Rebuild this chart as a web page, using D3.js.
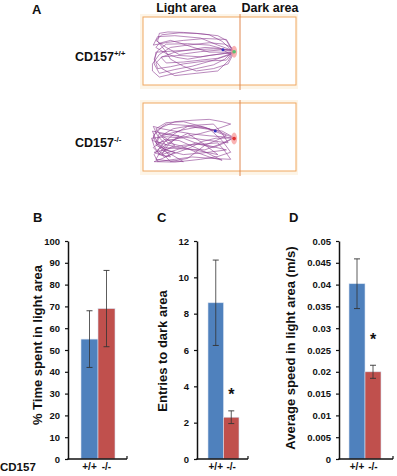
<!DOCTYPE html>
<meta charset="utf-8">
<script src="https://d3js.org/d3.v7.min.js"></script>
<style>
  body { margin: 0; background: #fff; }
  text { font-family: "Liberation Sans", Arial, sans-serif; font-weight: bold; fill: #111; }
</style>
<div id="fig"></div>
<script>
// genotype groups
var groups = ["+/+", "-/-"];
var colors = ["#4F81BD", "#C0504D"];

// panel B: % time spent in light area
var timeMean = [55, 69];
var timeErr = [13, 17.5];
var timeTicks = [0, 10, 20, 30, 40, 50, 60, 70, 80, 90, 100];

// panel C: entries to dark area
var entryMean = [8.6, 2.3];
var entryErr = [2.35, 0.35];
var entryTicks = [0, 2, 4, 6, 8, 10, 12];

// panel D: average speed in light area
var speedMean = [0.0402, 0.0200];
var speedErr = [0.0057, 0.0015];
var speedTicks = [0, 0.005, 0.01, 0.015, 0.02, 0.025, 0.03, 0.035, 0.04, 0.045, 0.05];

// panel A: traced tracks (percent of light area, hand read)
var trackWT = [[98,42],[80,30],[60,15],[30,10],[10,12],[5,30],[22,24],[40,20],[65,16],[90,18],[97,40],[75,38],[50,40],
  [25,43],[8,45],[6,70],[12,90],[30,82],[50,75],[75,62],[95,50],[82,36],[70,30],[45,27],[20,28],[10,42],[6,60],[15,80],
  [30,95],[55,90],[80,85],[92,64],[98,45],[78,50],[60,55],[35,52],[15,55],[8,68],[10,80],[25,76],[40,70],[65,64],[90,62],
  [98,44],[85,22],[70,8],[55,5],[35,4],[15,8],[8,20],[20,35],[35,50],[60,44],[85,40],[98,43],[88,60],[75,72],[55,80],
  [35,88],[12,98],[4,85],[4,70],[12,50],[25,35],[45,30],[70,25],[88,28],[96,35],[99,46],[80,58],[60,62],[40,66],[20,68],
  [14,56],[30,45],[48,40],[65,35],[82,37],[97,42],[90,20],[80,10],[60,6],[40,3],[22,2],[12,5],[10,22],[18,40],[25,60],
  [40,75],[55,85],[75,80],[92,70],[99,45],[85,45],[70,45],[50,34],[35,25],[25,20],[12,26],[8,35],[20,48],[32,56],
  [45,60],[70,52],[88,48],[98,47]];
var trackKO = [[99,45],[85,42],[70,40],[50,36],[30,30],[15,25],[5,20],[10,40],[20,60],[12,78],[8,90],[22,93],[40,95],
  [28,82],[15,70],[8,55],[5,40],[15,22],[30,10],[50,7],[70,5],[85,10],[95,15],[78,26],[60,35],[35,45],[10,55],[18,70],
  [25,85],[12,80],[6,75],[22,68],[40,60],[60,58],[80,55],[88,72],[95,90],[72,88],[50,85],[30,90],[10,95],[6,80],
  [14,62],[20,50],[30,35],[45,20],[65,25],[85,30],[99,44],[82,58],[65,70],[40,68],[18,65],[8,48],[4,30],[18,35],
  [35,40],[22,60],[15,80],[35,68],[55,55],[72,62],[90,70],[65,76],[40,80],[22,72],[8,60],[12,42],[28,25],[50,18],
  [75,15],[85,35],[92,55],[70,50],[50,45],[30,40],[12,35],[8,55],[20,70],[30,75],[16,88],[6,95],[30,96],[60,90],
  [80,84],[95,75],[85,50],[70,25],[45,18],[20,15],[8,30],[4,50],[18,58],[35,65],[58,72],[80,80],[62,55],[45,35],
  [28,50],[10,70],[18,82],[25,95],[45,88],[65,60],[78,50],[90,40],[65,22],[40,10],[20,12],[8,25],[14,40],[22,55],
  [38,62],[55,75],[70,85],[85,92],[60,70],[35,50],[18,48],[5,65],[10,75],[18,85],[32,76],[48,65],[62,52],[78,45],
  [99,45],[80,30],[60,20],[38,28],[15,40],[22,48],[30,60],[20,70],[12,80],[6,62],[3,45],[20,42],[40,45],[58,58],
  [75,65],[88,55],[97,46]];

var W = 397, H = 476;
var svg = d3.select("#fig").append("svg").attr("width", W).attr("height", H);

// ---------- panel A ----------
svg.append("text").attr("x", 32).attr("y", 14).attr("font-size", 13).text("A");
svg.append("text").attr("x", 186).attr("y", 12).attr("font-size", 12.5).attr("text-anchor", "middle").text("Light area");
svg.append("text").attr("x", 270).attr("y", 12).attr("font-size", 12.5).attr("text-anchor", "middle").text("Dark area");

function arena(y0, track, sup, blue, red) {
  svg.append("rect").attr("x", 140).attr("y", y0 - 3).attr("width", 158).attr("height", 75).attr("fill", "#FDF5E8");
  svg.append("rect").attr("x", 143).attr("y", y0).attr("width", 153).attr("height", 68)
    .attr("fill", "#fff").attr("stroke", "#F0A860").attr("stroke-width", 1);
  svg.append("line").attr("x1", 240).attr("x2", 240).attr("y1", y0 - 3).attr("y2", y0 + 73)
    .attr("stroke", "#E08850").attr("stroke-width", 1);
  var tx = d3.scaleLinear().domain([0, 100]).range([149, 235]);
  var ty = d3.scaleLinear().domain([0, 100]).range([y0 + 14, y0 + 61]);
  svg.append("path").datum(track)
    .attr("fill", "none").attr("stroke", "#8B3A8F").attr("stroke-width", 0.7).attr("stroke-opacity", 0.85)
    .attr("stroke-linejoin", "round")
    .attr("d", d3.line().x(function(d) { return tx(d[0]); }).y(function(d) { return ty(d[1]); }));
  svg.append("ellipse").attr("cx", tx(99)).attr("cy", ty(red[1])).attr("rx", 3).attr("ry", 6).attr("fill", "#F7A0A0").attr("opacity", 0.8);
  svg.append("circle").attr("cx", tx(red[0])).attr("cy", ty(red[1])).attr("r", 1.8).attr("fill", red[2]);
  svg.append("circle").attr("cx", tx(blue[0])).attr("cy", ty(blue[1])).attr("r", 1.5).attr("fill", "#3030C0");
  var t = svg.append("text").attr("x", 75).attr("y", y0 + 44).attr("font-size", 12.5);
  t.append("tspan").text("CD157");
  t.append("tspan").attr("font-size", 8).attr("dy", -5).text(sup);
}
arena(17, trackWT, "+/+", [86, 40], [99, 44, "#5CC070"]);
arena(103, trackKO, "-/-", [77, 30], [99, 46, "#E03030"]);

// ---------- bar panels ----------
function barPanel(opt) {
  var y = d3.scaleLinear().domain([0, opt.ticks[opt.ticks.length - 1]]).range([459, 241]);
  var x = d3.scaleBand().domain(groups).range([opt.x0, opt.x0 + 2 * opt.bw]).padding(0);
  var g = svg.append("g");
  g.append("text").attr("x", opt.letterX).attr("y", 222).attr("font-size", 13).text(opt.letter);

  var yAxis = d3.axisLeft(y).tickValues(opt.ticks).tickSize(3).tickSizeOuter(0).tickPadding(5)
    .tickFormat(function(d) { return String(d); });
  var ya = g.append("g").attr("transform", "translate(" + opt.ax + ",0)").call(yAxis);
  ya.select(".domain").attr("stroke", "#111").attr("stroke-width", 1.5);
  ya.selectAll(".tick line").attr("stroke", "#111").attr("stroke-width", 1.2);
  ya.selectAll(".tick text").attr("font-size", 9.5).attr("font-family", "Liberation Sans, Arial, sans-serif")
    .attr("font-weight", "bold").attr("fill", "#111");

  g.selectAll(".bar").data(groups).enter().append("rect")
    .attr("x", function(d) { return x(d); })
    .attr("y", function(d, i) { return y(opt.mean[i]); })
    .attr("width", x.bandwidth())
    .attr("height", function(d, i) { return y(0) - y(opt.mean[i]); })
    .attr("fill", function(d, i) { return colors[i]; })
    .attr("stroke", "#D8E2F0").attr("stroke-width", 0.6);

  // error bars
  groups.forEach(function(d, i) {
    var cx = x(d) + x.bandwidth() / 2;
    var lo = y(opt.mean[i] - opt.err[i]), hi = y(opt.mean[i] + opt.err[i]);
    g.append("line").attr("x1", cx).attr("x2", cx).attr("y1", lo).attr("y2", hi).attr("stroke", "#333").attr("stroke-width", 0.8);
    [lo, hi].forEach(function(v) {
      g.append("line").attr("x1", cx - 3).attr("x2", cx + 3).attr("y1", v).attr("y2", v).attr("stroke", "#333").attr("stroke-width", 0.9);
    });
  });

  // x axis line with end tick
  g.append("line").attr("x1", opt.ax - 0.7).attr("x2", opt.axEnd).attr("y1", y(0)).attr("y2", y(0)).attr("stroke", "#111").attr("stroke-width", 1.5);
  g.append("line").attr("x1", opt.axEnd).attr("x2", opt.axEnd).attr("y1", y(0)).attr("y2", y(0) - 3).attr("stroke", "#111").attr("stroke-width", 1.2);

  g.selectAll(".xl").data(groups).enter().append("text")
    .attr("x", function(d) { return x(d) + x.bandwidth() / 2; })
    .attr("y", 470).attr("font-size", 10).attr("text-anchor", "middle").text(function(d) { return d; });

  if (opt.star != null) {
    g.append("text").attr("x", x(groups[1]) + x.bandwidth() / 2).attr("y", y(opt.star) + 10)
      .attr("font-size", 16).attr("font-weight", "normal").attr("text-anchor", "middle").text("*");
  }

  g.append("text").attr("transform", "translate(" + opt.labelX + "," + opt.labelY + ") rotate(-90)")
    .attr("font-size", 13).attr("text-anchor", "middle").text(opt.label);
}

barPanel({ letter: "B", letterX: 33, ax: 68, axEnd: 127, x0: 81, bw: 17, ticks: timeTicks,
  mean: timeMean, err: timeErr, label: "% Time spent in light area", labelX: 42, labelY: 345 });
barPanel({ letter: "C", letterX: 157, ax: 197, axEnd: 248, x0: 208, bw: 15.5, ticks: entryTicks,
  mean: entryMean, err: entryErr, star: 3.8, label: "Entries to dark area", labelX: 167, labelY: 351 });
barPanel({ letter: "D", letterX: 289, ax: 339, axEnd: 393, x0: 349, bw: 16, ticks: speedTicks,
  mean: speedMean, err: speedErr, star: 0.0284, label: "Average speed in light area (m/s)", labelX: 295, labelY: 348 });

svg.append("text").attr("x", 0).attr("y", 471).attr("font-size", 11.5).text("CD157");
</script>
